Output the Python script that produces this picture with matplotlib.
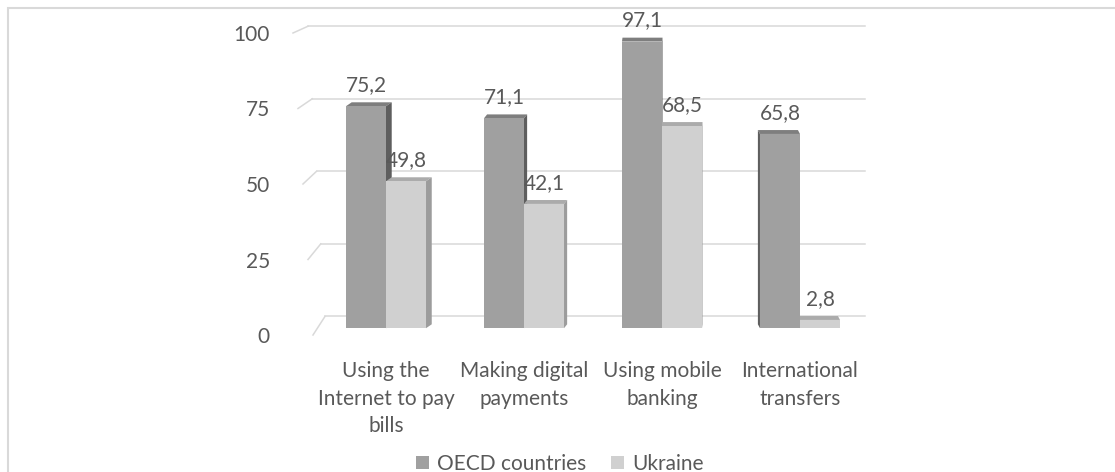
import matplotlib
matplotlib.use("Agg")
import matplotlib.pyplot as plt
from matplotlib.patches import Polygon, Patch, Rectangle

# data
categories = ["Using the\nInternet to pay\nbills", "Making digital\npayments",
              "Using mobile\nbanking", "International\ntransfers"]
series = ["OECD countries", "Ukraine"]
oecd = [75.2, 71.1, 97.1, 65.8]
ukraine = [49.8, 42.1, 68.5, 2.8]
yticks = [0, 25, 50, 75, 100]

# style
INK = "#595959"
GRID = "#d9d9d9"
FRONT = ["#a0a0a0", "#d0d0d0"]
TOP = ["#7e7e7e", "#ababab"]
SIDE = ["#5e5e5e", "#9c9c9c"]

plt.rcParams.update({"font.family": ["Lato", "DejaVu Sans"], "font.size": 15,
                     "text.color": INK})

W, H = 1115, 472
fig = plt.figure(figsize=(W / 100, H / 100), dpi=100)
ax = fig.add_axes([317 / W, 137 / H, 552 / W, 302 / H])
ax.set_xlim(-0.5, 3.5)
ax.set_ylim(0, 100)
ux = 4 / 552      # data units per pixel, x
uy = 100 / 302    # data units per pixel, y

BAR_W = 0.29
DY = 4 * uy       # depth of the pseudo-3D top face
VP = 2.2          # horizontal vanishing point (category units)

# back-wall gridlines with short perspective connectors on the left
for v in yticks:
    gy = v + 4.0 - 0.017 * v
    fy = -2.3 + 1.023 * v
    xb = -0.442 - 0.00123 * v
    xf = -0.529 - 0.00145 * v
    ax.plot([xb, 3.47], [gy, gy], color=GRID, lw=1.1, zorder=1, clip_on=False)
    ax.plot([xf, xb], [fy, gy], color=GRID, lw=1.1, zorder=1, clip_on=False)

for s, vals in enumerate([oecd, ukraine]):
    offs = (s - 0.5) * BAR_W
    xs = [i + offs for i in range(len(vals))]
    for i, (xc, v) in enumerate(zip(xs, vals)):
        dx = (VP - i) * 2.6 * ux
        z = 3 + s if dx > 0 else 4 - s
        x0, x1 = xc - BAR_W / 2, xc + BAR_W / 2
        ax.add_patch(Polygon([(x0, v), (x0 + dx, v + DY), (x1 + dx, v + DY), (x1, v)],
                             closed=True, fc=TOP[s], ec="none", zorder=z,
                             clip_on=False))
        xe = x1 if dx > 0 else x0
        ax.add_patch(Polygon([(xe, 0), (xe + dx, DY), (xe + dx, v + DY), (xe, v)],
                             closed=True, fc=SIDE[s], ec="none", zorder=z,
                             clip_on=False))
        ax.bar(xc, v, width=BAR_W, color=FRONT[s], zorder=z + 0.5, clip_on=False)
        ax.annotate(f"{v:.1f}".replace(".", ","), xy=(xc, v + DY), xytext=(0, 8),
                    textcoords="offset points", ha="center", va="baseline",
                    color=INK, annotation_clip=False)

# category labels
for i, cat in enumerate(categories):
    ax.annotate(cat, xy=(i, 0), xycoords=("data", "axes fraction"),
                xytext=(0, -19), textcoords="offset points", ha="center",
                va="top", linespacing=1.45, color=INK, annotation_clip=False)

ax.set_yticks([-2.3 + 1.023 * v for v in yticks], labels=[str(v) for v in yticks])
ax.tick_params(axis="y", length=0, pad=34, labelcolor=INK, labelsize=15)
ax.set_xticks([])
for sp in ax.spines.values():
    sp.set_visible(False)
ax.patch.set_visible(False)

# legend at the very bottom edge
handles = [Patch(fc=FRONT[k], ec="none") for k in range(2)]
fig.legend(handles, series, loc="center", bbox_to_anchor=(560 / W, 8 / H),
           ncol=2, frameon=False, handlelength=0.6, handleheight=0.6,
           handletextpad=0.4, columnspacing=1.2, fontsize=15, labelcolor=INK)

# chart area frame
fig.add_artist(Rectangle((8 / W, -0.1), 1.2, (H - 8) / H + 0.1, fill=False,
                         ec=GRID, lw=1.5, transform=fig.transFigure))

fig.savefig("out.png", dpi=100, facecolor="white")
